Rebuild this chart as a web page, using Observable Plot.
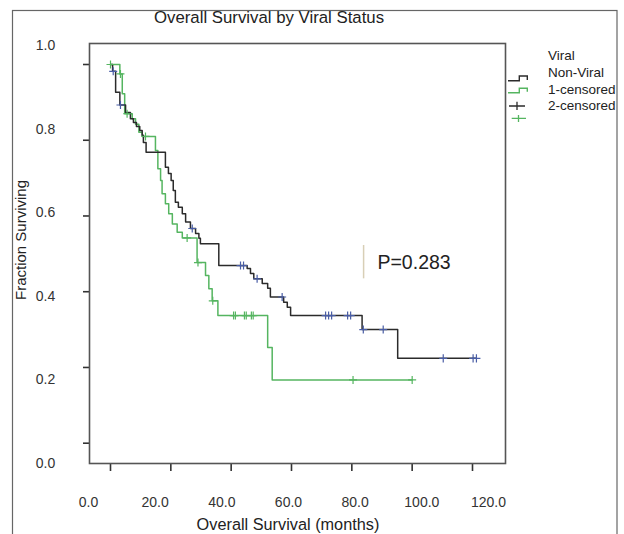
<!DOCTYPE html>
<html><head><meta charset="utf-8">
<script src="https://cdn.jsdelivr.net/npm/d3@7"></script>
<script src="https://cdn.jsdelivr.net/npm/@observablehq/plot@0.6"></script>
<style>
body{margin:0;background:#fff;}
#chart{position:relative;width:624px;height:534px;overflow:hidden;background:#fff;}
#chart svg{display:block;}
</style></head><body><div id="chart"></div>
<script>
// ---- data (months, fraction surviving) ----
const viralTimes = [0,0.7,1.7,3.1,5.0,6.6,7.6,8.6,9.7,10.5,10.9,11.8,18.2,19.2,20.1,20.8,21.5,22.5,23.8,24.9,26.5,28.2,29.3,29.8,35.9,45.3,46.4,47.5,50.3,52.1,53.0,57.4,58.6,59.7,83.4,95.2,121.3];
const viralSurv  = [1.0,0.982,0.927,0.893,0.873,0.857,0.847,0.836,0.826,0.813,0.794,0.768,0.729,0.712,0.694,0.667,0.636,0.623,0.606,0.584,0.567,0.554,0.541,0.527,0.469,0.461,0.448,0.434,0.422,0.409,0.386,0.372,0.359,0.337,0.300,0.224,0.224];
const viralCensored = [0.9,3.3,27.1,43.1,44.1,48.6,56.9,71.3,72.3,73.3,78.6,79.6,83.8,90.4,110.3,120.2,121.3];

const nonViralTimes = [0,3.1,3.9,4.7,7.2,8.3,9.4,10.5,14.9,15.7,16.6,17.1,18.2,19.3,20.5,22.1,23.8,28.7,31.5,32.6,33.7,35.6,52.1,53.6,100.0];
const nonViralSurv  = [1.0,0.975,0.923,0.870,0.857,0.842,0.821,0.810,0.773,0.725,0.694,0.659,0.632,0.606,0.579,0.557,0.542,0.477,0.443,0.408,0.376,0.337,0.253,0.167,0.167];
const nonViralCensored = [0,3.3,5.5,11.6,25.4,29.0,33.9,40.8,41.4,44.4,45.0,46.7,47.3,80.4,100.0];

const xTickValues = [0,20,40,60,80,100,120];
const yTickValues = [0,0.2,0.4,0.6,0.8,1.0];
const xTickLabels = ["0.0","20.0","40.0","60.0","80.0","100.0","120.0"];
const yTickLabels = ["0.0","0.2","0.4","0.6","0.8","1.0"];
const groupNames = ["Viral","Non-Viral"];
const legendLabels = ["Viral","Non-Viral","1-censored","2-censored"];
const pValueText = "P=0.283";

// ---- build tables ----
const steps = (times, surv, g) => times.map((t,i)=>({t, s:surv[i], g}));
const viralSteps = steps(viralTimes, viralSurv, groupNames[0]);
const nonViralSteps = steps(nonViralTimes, nonViralSurv, groupNames[1]);
const survAt = (tbl, t) => { let s = tbl[0].s; for (const d of tbl) if (d.t <= t) s = d.s; return s; };
const viralCens = viralCensored.map(t=>({t, s:survAt(viralSteps,t)}));
const nonViralCens = nonViralCensored.map(t=>({t, s:survAt(nonViralSteps,t)}));

// tick labels in the source are spread wider than the tick marks
const labelXPos = d3.scaleLinear([0,120],[-7.29,125.3]);
const labelYPos = d3.scaleLinear([0,1],[-0.0536,1.0502]);
const xLab = xTickValues.map((v,i)=>({v, label:xTickLabels[i]}));
const yLab = yTickValues.map((v,i)=>({v, label:yTickLabels[i]}));

const FONT = "'Liberation Sans', Arial, Helvetica, sans-serif";
const black = "#2b2b2b", green = "#55b560", blue = "#4a5ea6", frameCol = "#555";

const chart = Plot.plot({
  width: 624, height: 534,
  marginLeft: 89, marginRight: 119, marginTop: 43, marginBottom: 71,
  style: {fontFamily: FONT, background: "#fff", color: "#333"},
  x: {domain: [-6.961, 130.939], axis: null},
  y: {domain: [-0.0536, 1.05545], axis: null},
  marks: [
    Plot.axisX({ticks: xTickValues, tickSize: 8, tickFormat: () => "", label: null, stroke: "#333", strokeWidth: 1.6}),
    Plot.axisY({ticks: yTickValues, tickSize: 6, tickFormat: () => "", label: null, stroke: "#333", strokeWidth: 1.6}),
    Plot.frame({stroke: frameCol, strokeWidth: 1.6}),
    Plot.text(xLab, {x: d=>labelXPos(d.v), text: "label", frameAnchor: "bottom", dy: 39, lineAnchor: "middle", fontSize: 14, fill: "#333"}),
    Plot.text(yLab, {y: d=>labelYPos(d.v), text: "label", frameAnchor: "left", dx: -44, textAnchor: "middle", lineAnchor: "middle", fontSize: 14, fill: "#333"}),
    Plot.line(nonViralSteps, {x: "t", y: "s", curve: "step-after", stroke: green, strokeWidth: 1.5}),
    Plot.line(viralSteps, {x: "t", y: "s", curve: "step-after", stroke: black, strokeWidth: 1.5}),
    Plot.dot(nonViralCens, {x: "t", y: "s", symbol: "plus", r: 2.7, stroke: green, strokeWidth: 1.2}),
    Plot.dot(viralCens, {x: "t", y: "s", symbol: "plus", r: 2.7, stroke: blue, strokeWidth: 1.2}),
    Plot.ruleX([83.9], {y1: 0.434, y2: 0.522, stroke: "#d8cfb6", strokeWidth: 1.5}),
    Plot.text([pValueText], {x: 88.5, y: 0.477, text: d=>d, textAnchor: "start", lineAnchor: "middle", fontSize: 19.5, fill: "#222"})
  ]
});

const svg = d3.select(chart);
// outer border
svg.insert("rect", ":first-child").attr("x",12.5).attr("y",10.5).attr("width",604.5).attr("height",540)
  .attr("fill","#fff").attr("stroke","#666").attr("stroke-width",1.2);
// titles
svg.append("text").attr("x",269).attr("y",23).attr("text-anchor","middle").attr("font-size",16.8)
  .attr("font-family",FONT).attr("fill","#222").text("Overall Survival by Viral Status");
svg.append("text").attr("x",288).attr("y",529.5).attr("text-anchor","middle").attr("font-size",16.3)
  .attr("font-family",FONT).attr("fill","#222").text("Overall Survival (months)");
svg.append("text").attr("transform","translate(26,240) rotate(-90)").attr("text-anchor","middle").attr("font-size",15)
  .attr("font-family",FONT).attr("fill","#222").text("Fraction Surviving");
// legend
const legY = [59.5, 77, 94, 109.5];
legendLabels.forEach((l,i)=>svg.append("text").attr("x",548).attr("y",legY[i]).attr("text-anchor","start").attr("font-size",13.5)
  .attr("font-family",FONT).attr("fill","#222").text(l));
svg.append("path").attr("d","M508,80.7H519.3V76H527.3V80").attr("fill","none").attr("stroke",black).attr("stroke-width",1.4);
svg.append("path").attr("d","M508,92.7H519.3V88.3H527.3V91.7").attr("fill","none").attr("stroke",green).attr("stroke-width",1.4);
svg.append("path").attr("d","M509,106H525M517,101.7V110").attr("fill","none").attr("stroke",black).attr("stroke-width",1.3);
svg.append("path").attr("d","M511.7,118.3H526M518.5,115V122").attr("fill","none").attr("stroke",green).attr("stroke-width",1.3);

document.getElementById("chart").appendChild(chart);
</script></body></html>
